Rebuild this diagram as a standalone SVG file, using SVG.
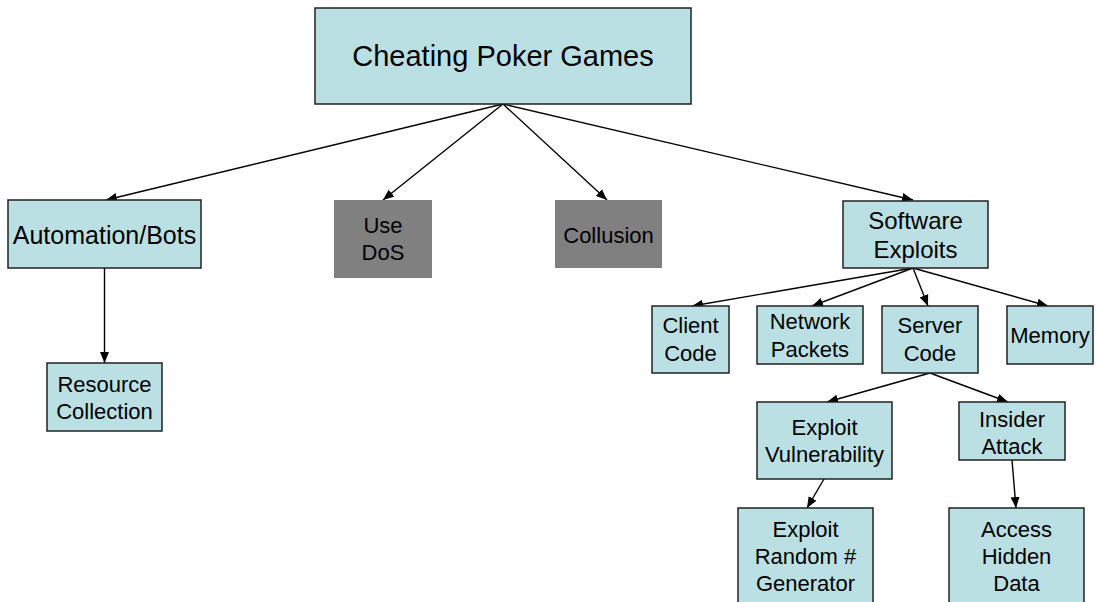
<svg xmlns="http://www.w3.org/2000/svg" width="1096" height="602" viewBox="0 0 1096 602">
<style>
.n{fill:#BBE0E3;stroke:#222;stroke-width:1.5}
.g{fill:#808080;stroke:none}
text{font-family:"Liberation Sans",Arial,sans-serif;font-size:22px;fill:#000;text-anchor:middle}
.e{stroke:#000;stroke-width:1.4;fill:none;marker-end:url(#ah)}
</style>
<defs>
<marker id="ah" markerUnits="userSpaceOnUse" markerWidth="12" markerHeight="10" refX="11" refY="5" orient="auto">
<path d="M0,0.5 L11,5 L0,9.5 z" fill="#000"/>
</marker>
</defs>
<rect width="1096" height="602" fill="#fff"/>
<g id="connectors">
<line class="e" x1="503" y1="104" x2="106" y2="200"/>
<line class="e" x1="503" y1="104" x2="383" y2="200"/>
<line class="e" x1="503" y1="104" x2="607" y2="200"/>
<line class="e" x1="503" y1="104" x2="913" y2="200"/>
<line class="e" x1="104.5" y1="268" x2="104.5" y2="363"/>
<line class="e" x1="913" y1="268" x2="692" y2="306"/>
<line class="e" x1="913" y1="268" x2="812" y2="306"/>
<line class="e" x1="913" y1="268" x2="928" y2="306"/>
<line class="e" x1="913" y1="268" x2="1048" y2="306"/>
<line class="e" x1="930" y1="373" x2="827" y2="402"/>
<line class="e" x1="930" y1="373" x2="1008" y2="402"/>
<line class="e" x1="824" y1="479" x2="807" y2="508"/>
<line class="e" x1="1012" y1="460" x2="1016" y2="508"/>
</g>
<g id="root"><rect class="n" x="315" y="8" width="376" height="96"/><text x="503" y="66" style="font-size:29px">Cheating Poker Games</text></g>
<g id="automation"><rect class="n" x="8" y="200" width="193" height="68"/><text x="104.5" y="244" style="font-size:25px">Automation/Bots</text></g>
<g id="dos"><rect class="g" x="334" y="200" width="98" height="78"/><text x="383" y="233">Use</text><text x="383" y="260">DoS</text></g>
<g id="collusion"><rect class="g" x="555" y="200" width="107" height="68"/><text x="608.5" y="243">Collusion</text></g>
<g id="software"><rect class="n" x="843" y="201" width="145" height="67"/><text x="915.5" y="229" style="font-size:24px">Software</text><text x="915.5" y="258" style="font-size:24px">Exploits</text></g>
<g id="resource"><rect class="n" x="47" y="363" width="115" height="68"/><text x="104.5" y="392">Resource</text><text x="104.5" y="419">Collection</text></g>
<g id="client"><rect class="n" x="652" y="306" width="77" height="67"/><text x="690.5" y="333">Client</text><text x="690.5" y="361">Code</text></g>
<g id="network"><rect class="n" x="757" y="306" width="106" height="58"/><text x="810" y="329">Network</text><text x="810" y="357">Packets</text></g>
<g id="server"><rect class="n" x="882" y="306" width="96" height="67"/><text x="930" y="333">Server</text><text x="930" y="361">Code</text></g>
<g id="memory"><rect class="n" x="1007" y="306" width="86" height="58"/><text x="1050" y="343">Memory</text></g>
<g id="vuln"><rect class="n" x="757" y="402" width="135" height="77"/><text x="824.5" y="435">Exploit</text><text x="824.5" y="462">Vulnerability</text></g>
<g id="insider"><rect class="n" x="959" y="402" width="106" height="58"/><text x="1012" y="427">Insider</text><text x="1012" y="454">Attack</text></g>
<g id="rng"><rect class="n" x="738" y="508" width="135" height="110"/><text x="805.5" y="537">Exploit</text><text x="805.5" y="564">Random #</text><text x="805.5" y="591">Generator</text></g>
<g id="hidden"><rect class="n" x="949" y="508" width="135" height="110"/><text x="1016.5" y="537">Access</text><text x="1016.5" y="564">Hidden</text><text x="1016.5" y="591">Data</text></g>
</svg>
